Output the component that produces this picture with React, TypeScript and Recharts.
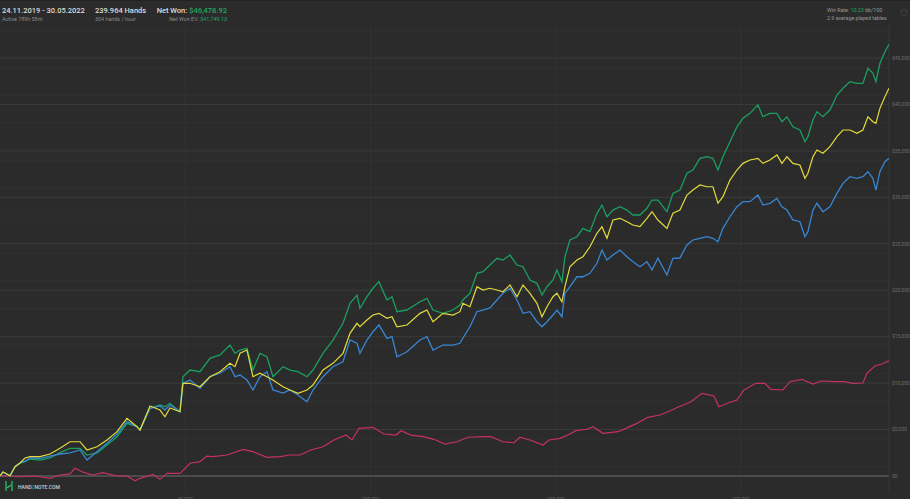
import { CartesianGrid, Line, LineChart, ReferenceLine, XAxis, YAxis } from "recharts";

// hands axis (shared by net won / all-in EV / showdown)
const hands = [
  0, 810, 2700, 4050, 5400, 6750, 8100, 10800, 13500, 16190,
  18890, 21590, 23480, 26180, 28880, 31580, 34280, 36980, 37790, 40490,
  43180, 44530, 45880, 48580, 49390, 51280, 53980, 56680, 59380, 62080,
  63430, 64780, 66670, 68280, 70170, 72060, 73680, 76380, 78270, 80430,
  82860, 84480, 87180, 89880, 92580, 94470, 96360, 97160, 99050, 100670,
  102290, 104450, 105800, 107150, 109850, 113360, 115250, 116870, 119570, 122260,
  124150, 124960, 126850, 128740, 130360, 132250, 134140, 135760, 137650, 139540,
  141160, 143050, 144940, 146290, 147640, 149260, 150330, 151680, 152490, 153840,
  155730, 157350, 159240, 161130, 162480, 163830, 165450, 167340, 169230, 170850,
  172740, 174630, 175980, 177590, 180020, 181640, 183530, 185420, 187040, 188930,
  190820, 192440, 193790, 195140, 197030, 198920, 200540, 202430, 204580, 205930,
  207820, 209710, 211060, 212410, 214030, 215920, 217270, 218080, 219430, 220510,
  222130, 224020, 225910, 227530, 229420, 231310, 232920, 234270, 235630, 236430,
  237510, 238860, 239964,
];

const netWon = [
  0, 430, 30, 1000, 1400, 1540, 1830, 1720, 1940, 2510,
  2980, 2980, 2260, 2480, 3340, 4230, 5670, 5310, 4950, 7290,
  7640, 7460, 7830, 6920, 10690, 11410, 11230, 12670, 13030, 14100,
  13210, 13560, 13750, 11410, 13210, 12840, 10690, 11770, 11410, 11230,
  10690, 11410, 13210, 14640, 16440, 18590, 19480, 18050, 19300, 20210,
  20920, 18950, 19300, 17690, 17870, 18760, 19130, 17870, 17510, 17870,
  18410, 18950, 19670, 21820, 21990, 22710, 23440, 23250, 23790, 22710,
  22530, 21100, 20740, 19480, 20380, 21100, 22180, 20920, 23610, 25410,
  25760, 26660, 26300, 28280, 29170, 27910, 28630, 28990, 28630, 28100,
  28100, 28820, 29710, 29710, 28450, 30430, 30790, 32590, 32940, 34200,
  34370, 34200, 32940, 34370, 35990, 37600, 38510, 39040, 39940, 38680,
  39040, 39040, 38140, 38680, 37600, 37250, 35990, 36530, 38320, 39220,
  38680, 39400, 41010, 41740, 42450, 42270, 42270, 43890, 43350, 42450,
  44430, 45680, 46478,
];

const allInEv = [
  0, 430, 30, 1000, 1400, 1940, 2080, 2080, 2370, 2980,
  3690, 3690, 2800, 3150, 3880, 4770, 6210, 5310, 4950, 7540,
  7100, 6380, 7320, 6920, 9980, 9980, 9610, 10690, 11230, 12130,
  11770, 13210, 13560, 10690, 11060, 10690, 10330, 9610, 9260, 8900,
  9260, 9800, 11410, 12130, 13210, 15360, 16440, 16070, 16790, 17330,
  17510, 16980, 17150, 16070, 16260, 17510, 17870, 16610, 17510, 17330,
  17690, 18590, 18230, 20380, 20020, 20210, 20020, 19840, 20560, 19300,
  20560, 19670, 18590, 17150, 18230, 19300, 19670, 18760, 20380, 22530,
  23250, 23610, 24680, 26130, 26840, 25590, 27560, 27740, 27380, 27020,
  26840, 27740, 28450, 27560, 26660, 28280, 28630, 30250, 30790, 31330,
  31140, 31140, 29360, 30070, 31860, 32940, 33660, 34020, 34200, 33660,
  34020, 34560, 33660, 34370, 33660, 33480, 32050, 32590, 34370, 35090,
  34740, 35450, 36530, 37250, 37250, 36890, 37250, 38680, 38140, 37970,
  39580, 40830, 41749,
];

const showdown = [
  0, 430, 30, 1000, 1400, 1610, 1940, 1910, 2150, 2370,
  2480, 2800, 1720, 2620, 3520, 4520, 5850, 5310, 4950, 7290,
  7540, 7100, 7640, 6920, 9980, 10330, 9440, 10690, 11060, 11770,
  10690, 10870, 10330, 9260, 10690, 11230, 9260, 8930, 9260, 8720,
  8000, 9260, 10690, 11770, 12300, 14640, 14290, 13210, 14640, 15530,
  16260, 14820, 15000, 12840, 13380, 14640, 15000, 13560, 14100, 14100,
  14290, 14860, 16070, 17690, 17870, 18090, 18950, 19670, 20210, 18950,
  17510, 17690, 16610, 16070, 16610, 17330, 17870, 17150, 19670, 20380,
  21450, 21450, 21820, 22900, 24330, 23250, 23790, 24330, 23610, 23070,
  22530, 23070, 22180, 23440, 21640, 23440, 23470, 24870, 25410, 25590,
  25760, 25590, 25220, 26660, 27910, 28990, 29530, 29530, 30250, 29170,
  29360, 29890, 28990, 28630, 27560, 27380, 25760, 26300, 28630, 29360,
  28450, 28990, 30430, 31510, 32220, 32050, 32220, 32760, 32050, 30790,
  32760, 33830, 34200,
];

// non-showdown line has its own sampling
const nsdHands = [
  0, 810, 5400, 8910, 10800, 13500, 16190, 18890, 20240, 22130,
  23480, 25100, 27800, 31580, 34280, 36440, 37790, 41300, 43180, 45070,
  48580, 51280, 53980, 55870, 57490, 61270, 65590, 68280, 72060, 75570,
  78270, 80970, 83940, 87180, 90150, 93390, 95000, 96890, 100670, 103640,
  106880, 108230, 110930, 114170, 117140, 120110, 123350, 126310, 130630, 132520,
  135760, 138730, 140350, 143050, 146560, 148180, 151140, 153300, 155460, 158430,
  160050, 162750, 166800, 168960, 171930, 174900, 178130, 180290, 183260, 186500,
  189470, 192710, 194060, 196760, 198920, 200810, 204050, 206470, 208090, 211330,
  213220, 216460, 219430, 221590, 225640, 227800, 230230, 232920, 234000, 236160,
  238050, 239964,
];

const nonShowdown = [
  0, 30, -80, 0, -80, -250, 110, 220, 830, 460,
  290, 110, 360, 0, 0, -510, -250, 180, -360, 290,
  290, 1370, 1540, 2150, 2080, 2260, 2870, 2620, 2010, 2080,
  2260, 2260, 2800, 3150, 3880, 4410, 3880, 5130, 5240, 4520,
  4410, 4880, 4410, 4230, 3950, 3440, 3690, 4170, 4230, 4230,
  3690, 3580, 4170, 3880, 3340, 3880, 4060, 4410, 4880, 5030,
  5310, 4600, 4770, 5130, 5670, 6320, 6570, 6920, 7460, 8000,
  8900, 8610, 7460, 7890, 8180, 9260, 9980, 9980, 9330, 9260,
  10150, 10410, 9900, 10230, 10150, 10150, 9980, 10010, 11060, 11840,
  12060, 12410,
];

const handTicks = [0, 50000, 100000, 150000, 200000];
const moneyTicks = [0, 5000, 10000, 15000, 20000, 25000, 30000, 35000, 40000, 45000];
const minorLines = [
  -1000, 1000, 2000, 3000, 4000, 6000, 7000, 8000, 9000, 11000, 12000, 13000, 14000,
  16000, 17000, 18000, 19000, 21000, 22000, 23000, 24000, 26000, 27000, 28000, 29000,
  31000, 32000, 33000, 34000, 36000, 37000, 38000, 39000, 41000, 42000, 43000, 44000,
  46000, 47000, 48000,
];

const TOTAL_HANDS = 239964;
const W = 910;
const H = 499;
const PLOT_RIGHT = 889;
const BG = "#2b2b2b";
const GREEN = "#1a9f60";
const YELLOW = "#e2dc3a";
const BLUE = "#3886d3";
const RED = "#c6325f";

const mainRows = hands.map((h, i) => ({ h, won: netWon[i], ev: allInEv[i], sd: showdown[i] }));
const nsdRows = nsdHands.map((h, i) => ({ h, nsd: nonShowdown[i] }));

const fmtMoney = (v: number) => "$" + v.toLocaleString("en-US");

function XTick({ x, payload }: any) {
  const first = payload.value === 0;
  return (
    <text x={first ? 0 : x} y={H + 1.5} textAnchor={first ? "start" : "middle"} fontSize={5} fill="#666">
      {payload.value.toLocaleString("en-US")}
    </text>
  );
}

function YTick({ y, payload }: any) {
  return (
    <text x={PLOT_RIGHT + 3} y={y} dy={1.8} textAnchor="start" fontSize={5} fill="#6c6c6c">
      {fmtMoney(payload.value)}
    </text>
  );
}

export default function App() {
  return (
    <div style={{ position: "relative", width: W, height: H, background: BG, overflow: "hidden", fontFamily: "Roboto, sans-serif" }}>
      <style>{"body{margin:0}"}</style>
      <LineChart width={W} height={H} margin={{ top: 25, right: 0, bottom: 4, left: 0 }}>
        <CartesianGrid horizontalValues={minorLines} verticalValues={[50000, 100000, 150000, 200000]} stroke="#323232" />
        {moneyTicks.map((v) => (
          <ReferenceLine key={v} y={v} stroke={v === 0 ? "#4c4c4c" : "#3b3b3b"} strokeWidth={v === 0 ? 2 : 1} />
        ))}
        <ReferenceLine x={TOTAL_HANDS} stroke="#383838" />
        <XAxis
          type="number"
          dataKey="h"
          domain={[0, TOTAL_HANDS]}
          ticks={handTicks}
          height={1}
          axisLine={false}
          tickLine={false}
          tick={<XTick />}
          allowDataOverflow
        />
        <YAxis
          orientation="right"
          type="number"
          domain={[-1937, 48553]}
          ticks={moneyTicks}
          width={W - PLOT_RIGHT}
          axisLine={false}
          tickLine={false}
          tick={<YTick />}
          allowDataOverflow
        />
        <Line data={nsdRows} dataKey="nsd" type="linear" stroke={RED} strokeWidth={1.2} dot={false} isAnimationActive={false} />
        <Line data={mainRows} dataKey="won" type="linear" stroke={GREEN} strokeWidth={1.3} dot={false} isAnimationActive={false} />
        <Line data={mainRows} dataKey="sd" type="linear" stroke={BLUE} strokeWidth={1.3} dot={false} isAnimationActive={false} />
        <Line data={mainRows} dataKey="ev" type="linear" stroke={YELLOW} strokeWidth={1.2} dot={false} isAnimationActive={false} />
      </LineChart>

      <svg width={W} height={H} style={{ position: "absolute", left: 0, top: 0, pointerEvents: "none" }}>
        <line x1={0} y1={0.5} x2={W} y2={0.5} stroke="#222" />
        <g fontFamily="Roboto, sans-serif">
          <text x={2} y={13.3} fontSize={7.5} fontWeight={500} fill="#dcdcdc">24.11.2019 - 30.05.2022</text>
          <text x={2} y={20.7} fontSize={5.4} fill="#8a8a8a">Active 789h 58m</text>
          <text x={95} y={13.3} fontSize={7.5} fontWeight={500} fill="#dcdcdc">239.964 Hands</text>
          <text x={95} y={20.7} fontSize={5.4} fill="#8a8a8a">304 hands / hour</text>
          <text x={227} y={13.3} fontSize={7.5} fontWeight={500} fill="#dcdcdc" textAnchor="end">
            Net Won: <tspan fill="#22a866">$46,478.92</tspan>
          </text>
          <text x={227} y={20.7} fontSize={5.4} fill="#8a8a8a" textAnchor="end">
            Net Won  EV: <tspan fill="#22a866">$41,749.13</tspan>
          </text>
          <text x={827} y={11.7} fontSize={5.3} fill="#9a9a9a">
            Win Rate: <tspan fill="#22a866">10.23</tspan> bb/100
          </text>
          <text x={827} y={20} fontSize={5.3} fill="#9a9a9a">2.9 average played tables</text>
        </g>
        <circle cx={904} cy={12.5} r={4} fill="#353535" />
        <circle cx={904} cy={12.5} r={1.6} fill="#2b2b2b" />
        <g>
          <rect x={5} y={481} width={2} height={10} fill="#1f8f52" />
          <rect x={11} y={481} width={2} height={10} fill="#1f8f52" />
          <path d="M7 487 L11 484.5 L11 486 L7 488.5 Z" fill="#3fbf74" />
          <text x={18} y={489} fontSize={5} fontWeight={500} fill="#cfcfcf" fontFamily="Roboto, sans-serif">
            HAND<tspan fill="#22a866">2</tspan>NOTE.COM
          </text>
        </g>
      </svg>
    </div>
  );
}
